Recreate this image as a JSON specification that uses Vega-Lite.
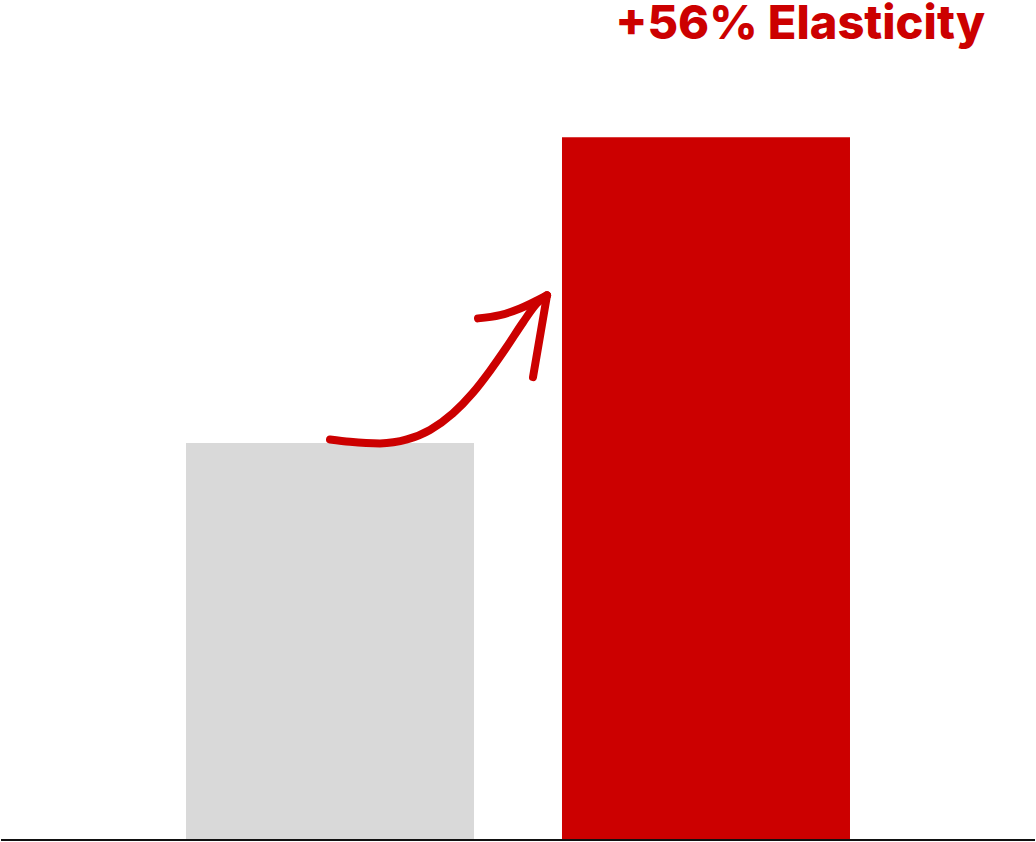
{
  "$schema": "https://vega.github.io/schema/vega-lite/v6.json",
  "width": 1036,
  "height": 842,
  "autosize": {"type": "fit", "contains": "padding"},
  "padding": {"top": 0, "left": 0, "right": 0, "bottom": 1},
  "background": "white",
  "config": {"view": {"stroke": null}},
  "datasets": {
    "bars": [
      {"group": "Before", "value": 100},
      {"group": "After", "value": 177}
    ],
    "arrow": [
      {"stroke": "curve", "i": 1, "pos": 330, "v": 100.9},
      {"stroke": "curve", "i": 2, "pos": 350, "v": 100.3},
      {"stroke": "curve", "i": 3, "pos": 380, "v": 99.9},
      {"stroke": "curve", "i": 4, "pos": 407, "v": 100.9},
      {"stroke": "curve", "i": 5, "pos": 430, "v": 103.3},
      {"stroke": "curve", "i": 6, "pos": 453, "v": 107.5},
      {"stroke": "curve", "i": 7, "pos": 473, "v": 112.7},
      {"stroke": "curve", "i": 8, "pos": 490, "v": 118.2},
      {"stroke": "curve", "i": 9, "pos": 507, "v": 124.3},
      {"stroke": "curve", "i": 10, "pos": 523, "v": 130.4},
      {"stroke": "curve", "i": 11, "pos": 537, "v": 135.2},
      {"stroke": "curve", "i": 12, "pos": 547, "v": 137.2},
      {"stroke": "left", "i": 1, "pos": 478, "v": 131.4},
      {"stroke": "left", "i": 2, "pos": 500, "v": 132.2},
      {"stroke": "left", "i": 3, "pos": 520, "v": 133.9},
      {"stroke": "left", "i": 4, "pos": 547, "v": 137.2},
      {"stroke": "right", "i": 1, "pos": 547, "v": 137.2},
      {"stroke": "right", "i": 2, "pos": 533, "v": 116.6}
    ],
    "label": [
      {"text": "+56% Elasticity", "pos": 985, "v": 201.8}
    ]
  },
  "layer": [
    {
      "data": {"name": "bars"},
      "mark": "bar",
      "encoding": {
        "x": {
          "field": "group", "type": "nominal", "sort": ["Before", "After"],
          "scale": {"paddingInner": 0.234, "paddingOuter": 0.4947},
          "axis": null
        },
        "y": {
          "field": "value", "type": "quantitative",
          "scale": {"domain": [0, 211.6], "nice": false},
          "axis": null
        },
        "color": {
          "field": "group", "type": "nominal",
          "scale": {"domain": ["Before", "After"], "range": ["#d9d9d9", "#cc0000"]},
          "legend": null
        }
      }
    },
    {
      "data": {"values": [{"pos": 1, "end": 1035, "v": 0}]},
      "mark": {"type": "rule", "color": "#111111", "strokeWidth": 2},
      "encoding": {
        "x": {"field": "pos", "type": "quantitative", "scale": {"domain": [0, 1036], "nice": false, "zero": false}, "axis": null},
        "x2": {"field": "end"},
        "y": {"field": "v", "type": "quantitative"}
      }
    },
    {
      "data": {"name": "arrow"},
      "mark": {"type": "line", "color": "#cc0000", "strokeWidth": 8, "strokeCap": "round", "strokeJoin": "round", "interpolate": "monotone"},
      "encoding": {
        "x": {"field": "pos", "type": "quantitative", "scale": {"domain": [0, 1036], "nice": false, "zero": false}, "axis": null},
        "y": {"field": "v", "type": "quantitative"},
        "detail": {"field": "stroke"},
        "order": {"field": "i"}
      }
    },
    {
      "data": {"name": "label"},
      "mark": {"type": "text", "color": "#cc0000", "font": "Inter", "fontWeight": 800, "fontSize": 47, "align": "right", "baseline": "alphabetic"},
      "encoding": {
        "x": {"field": "pos", "type": "quantitative", "scale": {"domain": [0, 1036], "nice": false, "zero": false}, "axis": null},
        "y": {"field": "v", "type": "quantitative"},
        "text": {"field": "text"}
      }
    }
  ],
  "resolve": {"scale": {"x": "independent"}}
}
